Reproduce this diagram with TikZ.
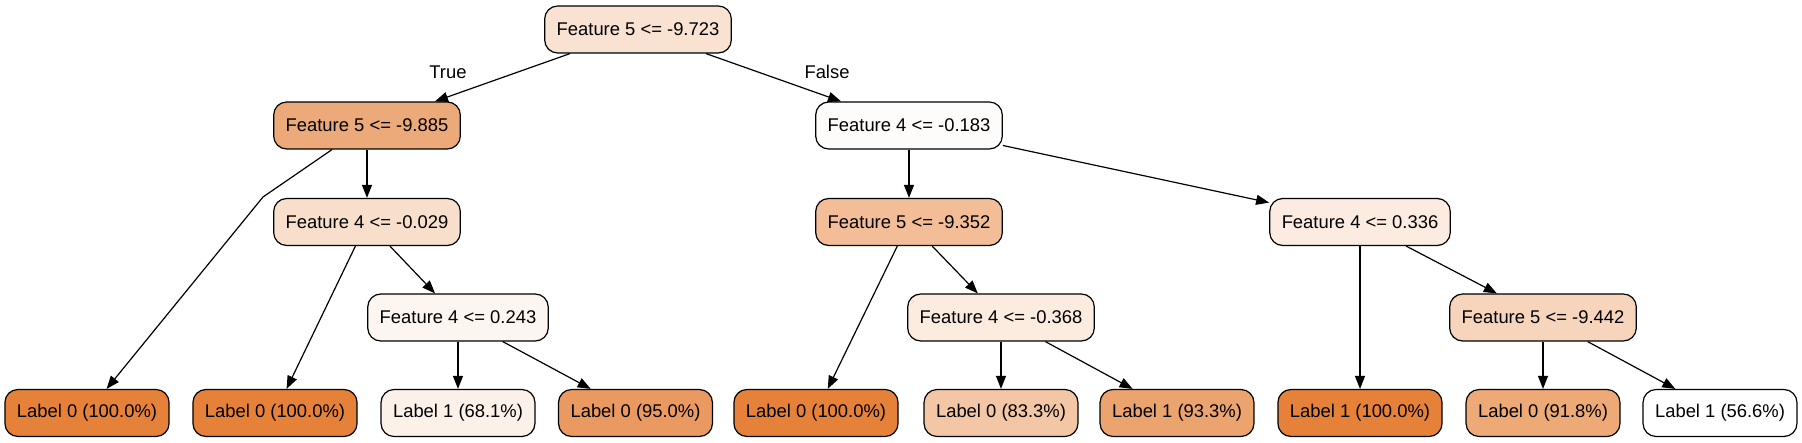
\documentclass[tikz,border=0pt]{standalone}
\usepackage{fontspec}
\setmainfont{Liberation Sans}
\usetikzlibrary{arrows.meta,calc}
\definecolor{cRoot}{HTML}{F9E2D2}
\definecolor{cNa}{HTML}{ECA979}
\definecolor{cNb}{HTML}{FEFCFB}
\definecolor{cNc}{HTML}{F8DFCC}
\definecolor{cNd}{HTML}{FDF6F0}
\definecolor{cNe}{HTML}{F2BD97}
\definecolor{cNf}{HTML}{FBEBE0}
\definecolor{cNg}{HTML}{FCEBDF}
\definecolor{cNh}{HTML}{F7D5BC}
\definecolor{cFull}{HTML}{E58139}
\definecolor{cLc}{HTML}{FCF1E9}
\definecolor{cLd}{HTML}{EA9A60}
\definecolor{cLf}{HTML}{F3C6A5}
\definecolor{cLg}{HTML}{ECA46F}
\definecolor{cLi}{HTML}{EDA976}
\definecolor{cLj}{HTML}{FFFFFF}
\tikzset{
  treebox/.style={draw=black, line width=1.2pt, rectangle, rounded corners=13pt,
    inner xsep=12pt, inner ysep=0pt, minimum height=47pt,
    font=\fontsize{18.4}{22}\selectfont},
  edge/.style={line width=1.2pt, -{Triangle[length=13pt,width=10pt]}},
  elabel/.style={font=\fontsize{18.4}{22}\selectfont}
}
\begin{document}
\begin{tikzpicture}[x=1pt,y=-1pt]
\useasboundingbox (0,0) rectangle (1802,443);
% level 0
\node[treebox, fill=cRoot] (root) at (638,29.5) {Feature 5 <= -9.723};
% level 1
\node[treebox, fill=cNa] (n1) at (367,125.5) {Feature 5 <= -9.885};
\node[treebox, fill=cNb] (n2) at (909,125.5) {Feature 4 <= -0.183};
% level 2
\node[treebox, fill=cNc] (n3) at (367,222) {Feature 4 <= -0.029};
\node[treebox, fill=cNe] (n5) at (909,222) {Feature 5 <= -9.352};
\node[treebox, fill=cNf] (n6) at (1360,222) {Feature 4 <= 0.336};
% level 3
\node[treebox, fill=cNd] (n4) at (458,317.5) {Feature 4 <= 0.243};
\node[treebox, fill=cNg] (n7) at (1001,317.5) {Feature 4 <= -0.368};
\node[treebox, fill=cNh] (n8) at (1543,317.5) {Feature 5 <= -9.442};
% leaves
\node[treebox, fill=cFull] (l1) at (87,413) {Label 0 (100.0\%)};
\node[treebox, fill=cFull] (l2) at (275,413) {Label 0 (100.0\%)};
\node[treebox, fill=cLc] (l3) at (458,413) {Label 1 (68.1\%)};
\node[treebox, fill=cLd] (l4) at (635.5,413) {Label 0 (95.0\%)};
\node[treebox, fill=cFull] (l5) at (816,413) {Label 0 (100.0\%)};
\node[treebox, fill=cLf] (l6) at (1001,413) {Label 0 (83.3\%)};
\node[treebox, fill=cLg] (l7) at (1177,413) {Label 1 (93.3\%)};
\node[treebox, fill=cFull] (l8) at (1360,413) {Label 1 (100.0\%)};
\node[treebox, fill=cLi] (l9) at (1543,413) {Label 0 (91.8\%)};
\node[treebox, fill=cLj] (l10) at (1720,413) {Label 1 (56.6\%)};
% edge labels
\node[elabel] (tlab) at (448,72) {True};
\node[elabel] (flab) at (827,72) {False};
% edges
\draw[edge] (root) -- (n1);
\draw[edge] (root) -- (n2);
\coordinate (bend) at (263,197);
\draw[edge] ($(n1.south)+(-35,0)$) -- (bend) -- (l1);
\draw[edge] (n1) -- (n3);
\draw[edge] (n3) -- (l2);
\draw[edge] (n3) -- (n4);
\draw[edge] (n4) -- (l3);
\draw[edge] (n4) -- (l4);
\draw[edge] (n2) -- (n5);
\draw[edge] (n2) -- (n6);
\draw[edge] (n5) -- (l5);
\draw[edge] (n5) -- (n7);
\draw[edge] (n7) -- (l6);
\draw[edge] (n7) -- (l7);
\draw[edge] (n6) -- (l8);
\draw[edge] (n6) -- (n8);
\draw[edge] (n8) -- (l9);
\draw[edge] (n8) -- (l10);
\end{tikzpicture}
\end{document}
